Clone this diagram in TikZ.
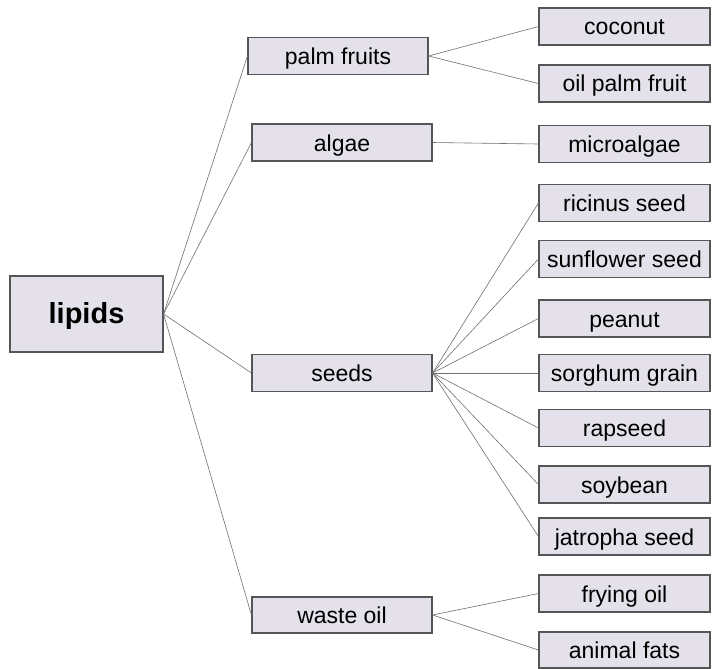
\documentclass[tikz,border=0pt]{standalone}
\usepackage{fontspec}
\setmainfont{Liberation Sans}
\definecolor{boxfill}{HTML}{E4E1EA}
\definecolor{boxline}{HTML}{555555}
\definecolor{linkline}{HTML}{707070}
\begin{document}
\begin{tikzpicture}[x=1pt,y=-1pt,
  box/.style={draw=boxline, line width=1.1pt, fill=boxfill, rectangle, inner sep=0pt,
    font=\fontsize{23}{27}\selectfont, text height=19pt, text depth=2pt, minimum height=37pt},
  midbox/.style={box, minimum width=180pt},
  leafbox/.style={box, minimum width=171pt},
  link/.style={draw=linkline, line width=0.6pt}]
\useasboundingbox[fill=white] (0,0) rectangle (713,669);
\node[box, minimum width=153pt, minimum height=76pt, font=\fontsize{29}{33}\selectfont\bfseries, text height=21pt, text depth=2pt] (lip) at (86.5,314) {lipids};
\node[midbox] (palm) at (338,56) {palm fruits};
\node[midbox] (alg) at (342,142.5) {algae};
\node[midbox] (seed) at (342,373) {seeds};
\node[midbox, minimum height=36pt] (waste) at (342,615) {waste oil};
\node[leafbox] (coco) at (624.5,26.5) {coconut};
\node[leafbox] (opf) at (624.5,83.5) {oil palm fruit};
\node[leafbox] (micro) at (624.5,144) {microalgae};
\node[leafbox] (ric) at (624.5,203) {ricinus seed};
\node[leafbox] (sun) at (624.5,259) {sunflower seed};
\node[leafbox] (pea) at (624.5,318.5) {peanut};
\node[leafbox] (sor) at (624.5,373) {sorghum grain};
\node[leafbox] (rap) at (624.5,428) {rapseed};
\node[leafbox] (soy) at (624.5,484.5) {soybean};
\node[leafbox] (jat) at (624.5,536.5) {jatropha seed};
\node[leafbox] (fry) at (624.5,593.5) {frying oil};
\node[leafbox, minimum height=36pt] (ani) at (624.5,650) {animal fats};
\foreach \t in {palm,alg,seed,waste} \draw[link] (lip.east) -- (\t.west);
\foreach \t in {coco,opf} \draw[link] (palm.east) -- (\t.west);
\draw[link] (alg.east) -- (micro.west);
\foreach \t in {ric,sun,pea,sor,rap,soy,jat} \draw[link] (seed.east) -- (\t.west);
\foreach \t in {fry,ani} \draw[link] (waste.east) -- (\t.west);
\end{tikzpicture}
\end{document}
